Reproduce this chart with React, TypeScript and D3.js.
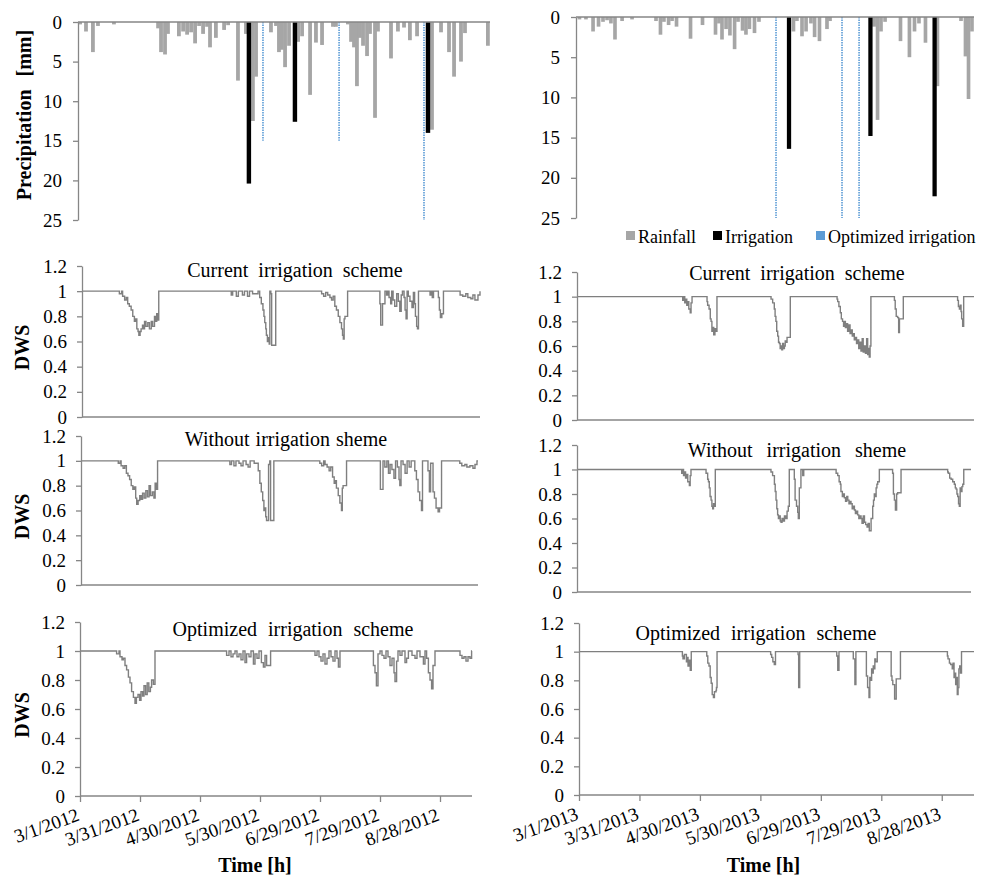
import React, { useRef, useEffect } from "react";
import * as d3 from "d3";

// rainfall, [day since 1 March, mm]
const rain2012 = [
  [1.0, 0.3], [3.8, 1.2], [7.1, 3.8], [9.5, 0.5], [17.1, 0.3], [38.1, 0.8], [39.5, 3.8],
  [41.4, 4.1], [42.8, 1.5], [48.0, 1.8], [50.0, 1.2], [51.9, 1.6], [53.8, 1.3], [55.7, 2.7],
  [57.6, 0.5], [59.5, 1.5], [61.4, 0.6], [62.8, 3.2], [65.6, 2.0], [69.5, 1.0], [71.4, 0.4],
  [76.1, 7.4], [79.9, 1.5], [83.2, 12.5], [84.7, 6.9], [91.8, 1.3], [94.2, 0.5], [95.6, 3.8],
  [97.0, 3.5], [98.5, 5.7], [100.4, 3.0], [104.7, 2.5], [106.6, 1.8], [110.4, 9.2], [113.2, 2.6],
  [116.1, 2.9], [121.3, 0.6], [122.7, 0.6], [128.4, 0.3], [129.9, 2.5], [131.3, 3.2], [132.7, 8.1],
  [134.1, 2.0], [135.6, 3.0], [137.5, 4.3], [138.9, 1.5], [141.3, 12.1], [142.7, 1.2], [148.9, 4.6],
  [152.2, 1.2], [155.1, 0.7], [157.9, 2.3], [161.3, 1.8], [168.4, 13.6], [172.7, 1.3], [176.5, 3.8],
  [178.9, 6.9], [182.2, 5.0], [184.1, 1.4], [195.0, 3.0],
];
const irrig2012 = [[81.3, 20.4], [103.2, 12.6], [166.5, 14.0]];
const optIrrig2012 = [[88.0, 15], [124.2, 15], [164.6, 25]];

const rain2013 = [
  [1.7, 0.3], [4.9, 0.3], [8.4, 1.8], [11.1, 1.2], [13.3, 0.6], [15.3, 0.4], [17.2, 0.8],
  [19.2, 2.8], [22.7, 0.5], [27.6, 0.3], [39.4, 0.5], [41.6, 2.2], [43.3, 0.6], [45.6, 1.0],
  [47.3, 0.5], [49.5, 1.2], [56.4, 2.7], [62.3, 1.0], [68.7, 2.2], [70.4, 0.8], [71.9, 2.8],
  [73.9, 1.5], [75.8, 2.3], [78.1, 4.0], [79.8, 0.6], [82.0, 1.7], [83.7, 2.2], [85.4, 1.5],
  [87.9, 2.0], [90.1, 0.6], [107.1, 1.8], [108.8, 0.5], [111.3, 2.4], [113.3, 1.8], [115.7, 0.8],
  [117.5, 2.5], [119.9, 3.0], [123.6, 1.5], [125.1, 0.5], [146.8, 1.2], [148.5, 12.8], [150.2, 1.8],
  [152.2, 0.6], [159.8, 3.0], [164.2, 5.0], [166.7, 1.8], [168.9, 0.8], [172.1, 3.2], [178.0, 8.6],
  [189.6, 0.5], [191.8, 4.9], [193.3, 10.2], [195.0, 1.8],
];
const irrig2013 = [[104.9, 16.4], [145.0, 14.8], [176.6, 22.3]];
const optIrrig2013 = [[98.5, 25], [131.0, 25], [139.4, 25]];

// DWS, [day since 1 March, value]
const current2012 = [
  [0, 1], [18.4, 0.98], [19.5, 1], [20, 0.96], [21, 0.93], [21.8, 0.95], [22.5, 0.9], [23.3, 0.88],
  [24.2, 0.85], [25, 0.8], [25.8, 0.76], [26.4, 0.78], [27, 0.7], [27.6, 0.68], [28, 0.65], [28.6, 0.68],
  [29.1, 0.7], [29.8, 0.73], [30.4, 0.7], [30.8, 0.76], [31.5, 0.72], [32.4, 0.75], [33.2, 0.7],
  [34.1, 0.76], [34.8, 0.72], [35.7, 0.8], [36.3, 0.76], [36.8, 0.82], [37.4, 0.77], [37.8, 1],
  [73.5, 0.97], [74.2, 1], [76, 0.96], [77, 1], [79, 0.97], [80, 1], [81.5, 0.96], [82.5, 1], [84, 0.98],
  [86.7, 1], [87.5, 0.95], [88.3, 0.9], [89.1, 0.85], [89.6, 0.8], [90, 0.75], [90.5, 0.7], [90.8, 0.65],
  [91.3, 0.6], [91.8, 0.63], [92.2, 0.58], [92.5, 1], [93, 0.98], [93.4, 0.57], [95.4, 1],
  [118, 0.98], [119, 0.96], [120, 0.99], [121, 0.97], [122.1, 0.95], [122.9, 0.93], [123.7, 0.96],
  [124.5, 0.88], [125.3, 0.85], [126.2, 0.8], [127, 0.75], [127.8, 0.7], [128.3, 0.65], [128.7, 0.62],
  [129.1, 0.78], [129.5, 0.8], [130.8, 1],
  [146.7, 0.9], [147.1, 0.73], [148, 0.9], [149.2, 1], [150, 0.97], [150.6, 1], [151.2, 0.95], [152, 0.9],
  [152.5, 1], [153.2, 0.93], [154, 0.88], [155, 0.98], [155.8, 0.92], [156.5, 0.84], [157.2, 0.97],
  [157.8, 1], [158.6, 0.95], [159.1, 0.85], [159.6, 0.78], [160.1, 1], [160.7, 0.96], [161.5, 0.92],
  [162.5, 0.87], [163.2, 0.99], [163.8, 0.9], [164.2, 0.8], [164.8, 0.72], [165.2, 0.7], [165.7, 1],
  [171.4, 0.97], [172, 1], [172.5, 0.95], [173.1, 1], [175.5, 0.95], [176, 0.85], [176.5, 0.79],
  [177.2, 0.82], [178, 1], [186.2, 0.97], [187.5, 0.96], [189, 0.98], [190, 0.95], [191.5, 0.94],
  [192.5, 0.97], [193.5, 0.93], [195, 0.97], [196, 1],
];
const without2012 = [
  [0, 1], [18.4, 0.98], [19.3, 1], [19.8, 0.96], [20.8, 0.94], [21.6, 0.96], [22.4, 0.9], [23.2, 0.88],
  [24, 0.85], [24.8, 0.8], [25.6, 0.77], [26.3, 0.79], [27, 0.7], [27.5, 0.65], [28.2, 0.68], [29, 0.72],
  [29.7, 0.69], [30.4, 0.74], [31.2, 0.7], [32, 0.76], [32.8, 0.71], [33.6, 0.8], [34.3, 0.72],
  [35.2, 0.75], [36, 0.7], [36.6, 0.82], [37.3, 0.77], [37.8, 1],
  [73.5, 0.97], [74.3, 1], [75.5, 0.96], [76.5, 1], [78, 0.98], [79, 0.96], [80, 1], [81.5, 0.97],
  [82.5, 0.95], [83.5, 1], [85.5, 0.98], [87.5, 0.92], [88.3, 0.82], [89, 0.75], [89.7, 0.68], [90.3, 0.6],
  [90.8, 0.62], [91.2, 0.55], [91.6, 0.52], [92.6, 0.97], [93.2, 1], [93.6, 0.52], [95.2, 1],
  [117.9, 0.98], [118.8, 0.96], [119.8, 1], [120.5, 0.97], [121.5, 0.95], [122.5, 0.92], [123.3, 0.95],
  [124.2, 0.87], [125, 0.82], [125.7, 0.84], [126.1, 0.78], [127, 0.72], [127.8, 0.66], [128.6, 0.6],
  [129, 0.78], [129.4, 0.8], [131.1, 1],
  [147.8, 0.77], [149.1, 1], [150, 0.95], [151, 1], [151.8, 0.9], [152.6, 0.97], [153.5, 0.93],
  [154.5, 0.86], [155.3, 1], [156.2, 0.95], [157, 0.85], [157.4, 0.8], [158, 1], [159, 0.97], [160, 0.9],
  [161, 1], [162, 0.95], [163, 1], [164.8, 0.92], [165.6, 0.85], [166.4, 0.75], [167.2, 0.68],
  [168.1, 0.6], [168.6, 1], [171.3, 0.92], [172, 0.75], [172.6, 0.98], [173.8, 0.75], [174.5, 0.7],
  [175.3, 0.62], [176.3, 0.59], [177, 0.62], [178, 1], [187, 0.98], [188, 0.96], [189.5, 0.97],
  [190.5, 0.95], [192, 0.96], [193.5, 0.94], [194.5, 0.97], [195.5, 1], [196, 1],
];
const optimized2012 = [
  [0, 1], [18.3, 0.98], [19.5, 1], [20, 0.96], [21, 0.94], [21.7, 0.95], [22.5, 0.9], [23.3, 0.87],
  [24.2, 0.82], [25, 0.78], [25.8, 0.72], [26.7, 0.68], [27.5, 0.64], [28.2, 0.68], [29, 0.7],
  [29.8, 0.66], [30.5, 0.72], [31.3, 0.69], [32, 0.76], [32.8, 0.7], [33.6, 0.78], [34.4, 0.72],
  [35.2, 0.75], [35.8, 0.8], [36.7, 0.77], [37.5, 1],
  [73.3, 0.97], [74.5, 1], [75.5, 0.96], [76.5, 0.98], [77.5, 1], [78.5, 0.96], [79.5, 0.98],
  [80.5, 0.94], [81.5, 1], [82.5, 0.92], [83.3, 0.98], [84.5, 0.96], [85.5, 1], [86.7, 0.91],
  [87.5, 0.98], [88.5, 0.95], [89.5, 1], [90.7, 0.92], [91.7, 0.89], [92.5, 0.97], [93.3, 0.9], [95.3, 1],
  [117.5, 0.97], [118.5, 1], [119.5, 0.96], [120.5, 0.93], [121.5, 0.98], [122.5, 0.91], [123.5, 0.95],
  [124.5, 1], [125.5, 0.96], [126.5, 0.93], [127.5, 1], [128.5, 0.95], [129.2, 0.89], [130, 1],
  [146.7, 0.9], [147.5, 0.85], [148.2, 0.76], [149, 0.98], [150, 1], [151, 0.97], [152, 0.95], [153, 1],
  [154, 0.96], [155, 0.9], [156, 0.95], [157, 0.85], [157.5, 0.79], [158.3, 0.93], [159, 1],
  [160, 0.97], [161, 1], [162.5, 0.92], [163.3, 0.95], [164.2, 1], [166, 0.97], [167.5, 0.95],
  [168.5, 1], [170, 0.96], [171.7, 0.91], [172.5, 1], [173.3, 0.95], [174.2, 0.85], [175, 0.8],
  [175.8, 0.74], [176.5, 0.9], [177.5, 1], [190, 0.97], [191, 0.95], [192, 0.96], [193, 0.93],
  [194, 0.96], [195, 0.95], [195.8, 1], [196, 1],
];
const current2013 = [
  [0, 1], [52.2, 0.97], [52.7, 1], [53.2, 0.95], [53.8, 0.98], [54.2, 0.93], [54.6, 0.96], [55.2, 0.9],
  [55.9, 0.87], [56.3, 0.95], [56.8, 1],
  [64.2, 0.96], [64.5, 0.93], [65.2, 0.9], [65.8, 0.82], [66.2, 0.8], [66.6, 0.72], [67, 0.75],
  [67.5, 0.69], [68.1, 0.74], [68.6, 0.72], [69.1, 1],
  [95.8, 0.98], [96.6, 0.95], [97.4, 0.9], [97.8, 0.84], [98.2, 0.8], [98.6, 0.72], [99.1, 0.68],
  [99.5, 0.63], [99.9, 0.62], [100.3, 0.58], [100.7, 0.6], [101.1, 0.57], [101.5, 0.62], [102, 0.58],
  [102.4, 0.6], [102.8, 0.64], [103.2, 0.63], [103.7, 0.67], [105.3, 1],
  [128.4, 0.98], [128.7, 0.96], [129.3, 0.92], [130, 0.87], [130.5, 0.82], [131.1, 0.8], [131.6, 0.76],
  [132, 0.8], [132.5, 0.75], [133.1, 0.78], [133.6, 0.72], [134.2, 0.77], [134.8, 0.7], [135.3, 0.73],
  [135.9, 0.68], [136.4, 0.7], [136.9, 0.65], [137.5, 0.67], [138, 0.62], [138.6, 0.65], [139.1, 0.58],
  [139.7, 0.63], [140.2, 0.56], [140.8, 0.66], [141.3, 0.55], [141.8, 0.6], [142.4, 0.54], [143, 0.66],
  [143.5, 0.53], [144, 0.58], [144.3, 0.51], [144.7, 0.6], [145.1, 1],
  [156.7, 0.97], [157.1, 0.9], [157.6, 0.84], [158.3, 0.83], [158.8, 0.71], [159.2, 0.82], [161.1, 1],
  [187.9, 0.97], [188.3, 0.92], [188.8, 0.9], [189.2, 0.93], [189.6, 0.88], [189.9, 0.82],
  [190.4, 0.76], [190.9, 1], [196, 1],
];
const without2013 = [
  [0, 1], [52.1, 0.97], [52.6, 1], [53, 0.95], [53.4, 0.98], [54, 0.93], [54.6, 0.96], [55.1, 0.9],
  [55.9, 0.87], [56.3, 0.95], [56.7, 1],
  [64.2, 0.97], [65, 0.92], [65.4, 0.9], [65.8, 0.85], [66.2, 0.78], [66.7, 0.75], [67.1, 0.7],
  [67.5, 0.68], [67.9, 0.72], [68.3, 0.7], [68.8, 1],
  [96.5, 0.98], [97.3, 0.95], [98.2, 0.88], [98.6, 0.82], [99, 0.75], [99.4, 0.68], [99.8, 0.63],
  [100.2, 0.6], [100.7, 0.62], [101.1, 0.58], [101.5, 0.57], [102, 0.6], [102.5, 0.58], [103.2, 0.62],
  [103.8, 0.6], [104.5, 0.66], [105.1, 0.7], [105.6, 1],
  [108.1, 0.92], [108.5, 0.75], [109.2, 0.7], [109.8, 0.65], [110.1, 0.6], [110.6, 0.85], [111.4, 1],
  [112.3, 0.95], [112.8, 1],
  [128.9, 0.97], [129.7, 0.95], [130.4, 0.9], [131, 0.88], [131.3, 0.82], [132, 0.78], [132.5, 0.8],
  [133, 0.77], [133.6, 0.74], [134.2, 0.78], [134.7, 0.75], [135.3, 0.72], [135.8, 0.74], [136.3, 0.72],
  [136.9, 0.68], [137.4, 0.7], [138, 0.67], [138.5, 0.64], [139, 0.66], [139.6, 0.63], [140.2, 0.6],
  [140.7, 0.62], [141.3, 0.6], [141.8, 0.56], [142.4, 0.62], [143, 0.57], [143.6, 0.55], [144.3, 0.53],
  [144.8, 0.56], [145.4, 0.5], [146.3, 0.6], [147.1, 0.7], [147.5, 0.75], [147.9, 0.8], [148.3, 0.78],
  [148.8, 0.85], [149.2, 0.88], [149.6, 0.9], [150.4, 1],
  [157, 0.97], [157.4, 0.8], [157.9, 0.75], [158.4, 0.67], [159, 0.8], [159.5, 0.81], [161.2, 1],
  [184.4, 0.98], [184.7, 0.97], [185.4, 0.93], [186.1, 0.92], [186.9, 0.9], [187.7, 0.88],
  [188.2, 0.85], [188.6, 0.84], [189, 0.8], [189.4, 0.78], [189.8, 0.72], [190.2, 0.7], [190.6, 0.85],
  [191, 0.82], [191.5, 0.86], [191.9, 0.88], [192.4, 1], [196, 1],
];
const optimized2013 = [
  [0, 1], [51.3, 0.97], [51.6, 0.95], [52.3, 0.98], [53.3, 0.93], [53.8, 0.96], [54.1, 0.9],
  [54.6, 0.94], [55.2, 0.87], [55.7, 1],
  [63.4, 0.97], [63.9, 0.92], [64.5, 0.9], [65.1, 0.82], [65.6, 0.78], [66.1, 0.7], [66.7, 0.68],
  [67.2, 0.72], [68, 0.73], [68.2, 0.75], [68.5, 1],
  [95.1, 0.98], [95.6, 0.96], [96.2, 0.93], [96.9, 0.91], [97.5, 1],
  [108.7, 0.98], [109, 0.75], [109.5, 1],
  [127.9, 0.97], [128.4, 0.87], [129, 1],
  [136.1, 0.95], [136.9, 0.77], [137.4, 1],
  [142.6, 0.83], [143.2, 0.75], [143.9, 0.68], [144.3, 0.82], [144.8, 0.8], [145.2, 0.88], [145.6, 0.85],
  [146, 0.9], [146.4, 0.88], [146.8, 0.95], [147.2, 0.93], [148, 1],
  [154.9, 0.83], [155.3, 0.8], [155.7, 0.77], [156.6, 0.67], [157.4, 0.81], [159, 0.81], [159.5, 1],
  [182.8, 0.97], [183.1, 0.95], [183.8, 0.92], [184.4, 0.91], [185.2, 0.88], [185.6, 0.92],
  [186.1, 0.82], [186.5, 0.85], [186.9, 0.77], [187.3, 0.82], [187.7, 0.7], [188.1, 0.75],
  [188.5, 0.88], [188.9, 0.9], [189.3, 0.85], [189.8, 1], [196, 1],
];

const tickDays = [0, 30, 60, 90, 120, 150, 180];
const tickLabels2012 = ["3/1/2012", "3/31/2012", "4/30/2012", "5/30/2012", "6/29/2012", "7/29/2012", "8/28/2012"];
const tickLabels2013 = ["3/1/2013", "3/31/2013", "4/30/2013", "5/30/2013", "6/29/2013", "7/29/2013", "8/28/2013"];
const precipTicks = [0, 5, 10, 15, 20, 25];
const dwsTicks = [0, 0.2, 0.4, 0.6, 0.8, 1, 1.2];
const schemeTitles = ["Current irrigation scheme", "Without irrigation sheme", "Optimized irrigation scheme"];
const legendNames = ["Rainfall", "Irrigation", "Optimized irrigation"];

const AXIS = "#868686";
const RAIN = "#a6a6a6";
const OPT = "#5b9bd5";
const LINE = "#7f7f7f";
const FONT = "Liberation Serif, DejaVu Serif, Times New Roman, serif";
const DAYS = 196;

const precipBoxes = [
  { x0: 78, x1: 490, y0: 22, y1: 220 },
  { x0: 576, x1: 974, y0: 17, y1: 218 },
];
const dwsBoxes = [
  [
    { x0: 82, x1: 480, top: 266, bot: 417, tx: 295, ty: 277, ws: 5 },
    { x0: 81, x1: 478, top: 436, bot: 585, tx: 286, ty: 446, ws: 1 },
    { x0: 80, x1: 472, top: 622, bot: 796, tx: 293, ty: 636, ws: 6 },
  ],
  [
    { x0: 577, x1: 974, top: 272, bot: 420, tx: 797, ty: 280, ws: 5 },
    { x0: 577, x1: 971, top: 445, bot: 592, tx: 797, ty: 457, ws: 9 },
    { x0: 579, x1: 974, top: 623, bot: 795, tx: 756, ty: 640, ws: 6 },
  ],
];

const styleAxis = (g) => {
  g.attr("font-family", null).attr("font-size", null);
  g.select(".domain").attr("stroke", AXIS).attr("stroke-width", 1.3);
  g.selectAll(".tick line").attr("stroke", AXIS).attr("stroke-width", 1.3);
  g.selectAll(".tick text").attr("fill", "#000").style("font-size", "19px").style("font-family", FONT);
};

const App = () => {
  const svgRef = useRef(null);

  useEffect(() => {
    const svg = d3.select(svgRef.current);
    svg.selectAll("*").remove();

    const precipSets = [
      { rain: rain2012, irrig: irrig2012, opt: optIrrig2012 },
      { rain: rain2013, irrig: irrig2013, opt: optIrrig2013 },
    ];

    precipSets.forEach((set, col) => {
      const b = precipBoxes[col];
      const x = d3.scaleLinear().domain([0, DAYS]).range([b.x0, b.x1]);
      const y = d3.scaleLinear().domain([0, 25]).range([b.y0, b.y1]);
      const g = svg.append("g");
      const bw = x(1.8) - x(0);
      const iw = x(2.1) - x(0);

      g.selectAll(".rain")
        .data(set.rain)
        .enter()
        .append("rect")
        .attr("x", (d) => x(d[0]) - bw / 2)
        .attr("y", y(0))
        .attr("width", bw)
        .attr("height", (d) => y(d[1]) - y(0))
        .attr("fill", RAIN);

      g.selectAll(".irr")
        .data(set.irrig)
        .enter()
        .append("rect")
        .attr("x", (d) => x(d[0]) - iw / 2)
        .attr("y", y(0))
        .attr("width", iw)
        .attr("height", (d) => y(d[1]) - y(0))
        .attr("fill", "#000");

      g.selectAll(".opt")
        .data(set.opt)
        .enter()
        .append("line")
        .attr("x1", (d) => x(d[0]))
        .attr("x2", (d) => x(d[0]))
        .attr("y1", y(0))
        .attr("y2", (d) => y(d[1]))
        .attr("stroke", OPT)
        .attr("stroke-width", 1.6)
        .attr("stroke-dasharray", "1.5,1");

      g.append("line")
        .attr("x1", b.x0)
        .attr("x2", b.x1)
        .attr("y1", y(0))
        .attr("y2", y(0))
        .attr("stroke", AXIS)
        .attr("stroke-width", 1.3);

      g.append("g")
        .attr("transform", `translate(${b.x0},0)`)
        .call(d3.axisLeft(y).tickValues(precipTicks).tickSize(5).tickSizeOuter(0).tickPadding(11))
        .call(styleAxis);
    });

    // y label of the rain panel
    svg.append("text")
      .attr("transform", "translate(31,115) rotate(-90)")
      .attr("text-anchor", "middle")
      .style("font-family", FONT)
      .style("font-weight", "bold")
      .style("font-size", "20px")
      .style("word-spacing", "8px")
      .text("Precipitation [mm]");

    // legend
    const legendX = [626, 713, 816];
    const legendFill = [RAIN, "#000", OPT];
    legendNames.forEach((name, i) => {
      svg.append("rect")
        .attr("x", legendX[i])
        .attr("y", 231)
        .attr("width", 9)
        .attr("height", 9)
        .attr("fill", legendFill[i]);
      svg.append("text")
        .attr("x", legendX[i] + 12)
        .attr("y", 243)
        .style("font-family", FONT)
        .style("font-size", "18px")
        .text(name);
    });

    const dwsSets = [
      [current2012, without2012, optimized2012],
      [current2013, without2013, optimized2013],
    ];
    const tickLabelSets = [tickLabels2012, tickLabels2013];

    dwsSets.forEach((series, col) => {
      series.forEach((data, row) => {
        const b = dwsBoxes[col][row];
        const x = d3.scaleLinear().domain([0, DAYS]).range([b.x0, b.x1]);
        const y = d3.scaleLinear().domain([0, 1.2]).range([b.bot, b.top]);
        const g = svg.append("g");

        const line = d3
          .line()
          .x((d) => x(d[0]))
          .y((d) => y(d[1]))
          .curve(d3.curveStepAfter);

        g.append("path")
          .datum(data)
          .attr("fill", "none")
          .attr("stroke", LINE)
          .attr("stroke-width", 1.4)
          .attr("d", line);

        g.append("g")
          .attr("transform", `translate(${b.x0},0)`)
          .call(
            d3.axisLeft(y).tickValues(dwsTicks).tickFormat(d3.format("~g")).tickSize(5).tickSizeOuter(0).tickPadding(10)
          )
          .call(styleAxis);

        if (row === 2) {
          const labels = tickLabelSets[col];
          const ax = g.append("g")
            .attr("transform", `translate(0,${b.bot})`)
            .call(
              d3.axisBottom(x)
                .tickValues(tickDays)
                .tickFormat((d, i) => labels[i])
                .tickSize(6)
                .tickSizeOuter(0)
            )
            .call(styleAxis);
          ax.select(".domain").attr("d", `M${b.x0},0H${b.x1}`);
          ax.selectAll(".tick text")
            .attr("y", 0)
            .attr("dy", 0)
            .attr("text-anchor", "end")
            .attr("transform", "translate(0,24) rotate(-20)");

          svg.append("text")
            .attr("x", (b.x0 + b.x1) / 2 + (col === 0 ? -21 : -13))
            .attr("y", 872)
            .attr("text-anchor", "middle")
            .style("font-family", FONT)
            .style("font-weight", "bold")
            .style("font-size", "20px")
            .text("Time [h]");
        } else {
          g.append("line")
            .attr("x1", b.x0)
            .attr("x2", b.x1)
            .attr("y1", y(0))
            .attr("y2", y(0))
            .attr("stroke", AXIS)
            .attr("stroke-width", 1.3);
        }

        svg.append("text")
          .attr("x", b.tx)
          .attr("y", b.ty)
          .attr("text-anchor", "middle")
          .style("font-family", FONT)
          .style("font-size", "20px")
          .style("word-spacing", `${b.ws}px`)
          .text(schemeTitles[row]);

        if (col === 0) {
          svg.append("text")
            .attr("transform", `translate(29,${(b.top + b.bot) / 2 + 6}) rotate(-90)`)
            .attr("text-anchor", "middle")
            .style("font-family", FONT)
            .style("font-weight", "bold")
            .style("font-size", "20px")
            .text("DWS");
        }
      });
    });
  }, []);

  return (
    <svg
      ref={svgRef}
      width={982}
      height={880}
      style={{ position: "absolute", left: 0, top: 0, background: "#fff" }}
    ></svg>
  );
};

export default App;
